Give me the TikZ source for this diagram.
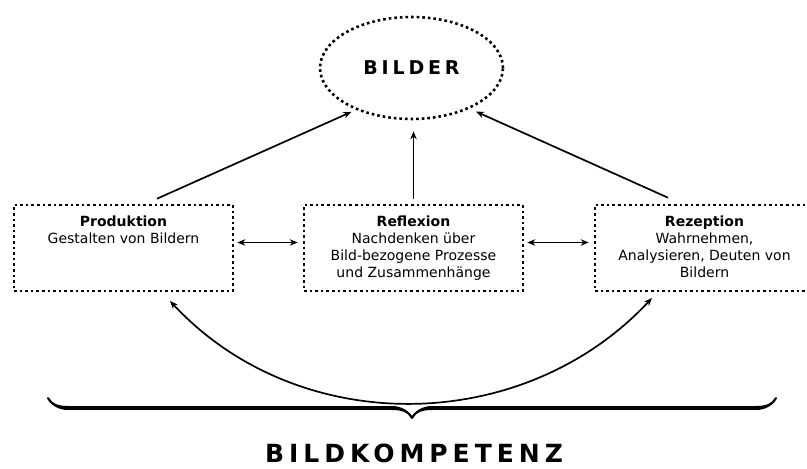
\documentclass[tikz,border=0pt]{standalone}
\usepackage{fontspec}
\setmainfont{DejaVu Sans}
\newfontfamily\spacedfont[LetterSpace=20]{DejaVu Sans}
\usetikzlibrary{arrows.meta, positioning, shapes.geometric, decorations.pathreplacing, calligraphy}

\begin{document}
\begin{tikzpicture}[
    x=1pt, y=1pt,
    dots/.style={line width=2.6pt, dash pattern=on 2.6pt off 3pt},
    box/.style={rectangle, draw, dots, minimum width=219pt, minimum height=86pt, inner sep=0pt},
    boxtext/.style={align=center, inner sep=0pt, font=\fontsize{14}{17}\selectfont},
    arrow/.style={line width=1.7pt},
    >={Stealth[length=8pt,width=6.5pt]}
]
\useasboundingbox (0,0) rectangle (807,-469);

% Nodes
\node (bilder) [ellipse, draw, dots, minimum width=183pt, minimum height=102pt, inner sep=0pt, font=\spacedfont\bfseries\fontsize{19}{22}\selectfont] at (411.5,-68) {BILDER};
\node (reflexion) [box] at (413.5,-248) {};
\node (produktion) [box, left=68.4pt of reflexion] {};
\node (rezeption) [box, right=69.4pt of reflexion] {};

\node (produktion-text) [boxtext, below=11.5pt of produktion.north] {\textbf{Produktion}\\Gestalten von Bildern};
\node (reflexion-text) [boxtext, below=11.5pt of reflexion.north] {\textbf{Reflexion}\\Nachdenken über\\Bild-bezogene Prozesse\\und Zusammenhänge};
\node (rezeption-text) [boxtext, below=11.5pt of rezeption.north] {\textbf{Rezeption}\\Wahrnehmen,\\Analysieren, Deuten von\\Bildern};

\node (bildkompetenz) [inner sep=0pt, font=\spacedfont\bfseries\fontsize{25}{30}\selectfont] at (414,-453) {BILDKOMPETENZ};

% Arrows
\draw[arrow, ->, shorten >=5pt] ([xshift=33.5pt,yshift=5pt]produktion.north) -- (bilder.217);
\draw[arrow, ->] ([yshift=5pt]reflexion.north) -- ([yshift=-11pt]reflexion.north |- bilder.south);
\draw[arrow, ->, shorten >=7pt] ([xshift=-36.5pt,yshift=6pt]rezeption.north) -- (bilder.325);

\draw[arrow, <->, shorten <=3pt, shorten >=5pt] ([yshift=5.5pt]produktion.east) -- ([yshift=5.5pt]reflexion.west);
\draw[arrow, <->, shorten <=3pt, shorten >=5pt] ([yshift=5.5pt]reflexion.east) -- ([yshift=5.5pt]rezeption.west);

\draw[arrow, <->] ([xshift=46.5pt,yshift=-8.7pt]produktion.south) to[out=-47, in=-133, looseness=1.0] ([xshift=-52.5pt,yshift=-5.7pt]rezeption.south);

% Brace
\coordinate (brace-left) at (48,-398);
\coordinate (brace-right) at (776,-398);
\draw[decorate, decoration={calligraphic brace, amplitude=20pt}, line width=4pt] (brace-right) -- (brace-left);

\end{tikzpicture}
\end{document}
